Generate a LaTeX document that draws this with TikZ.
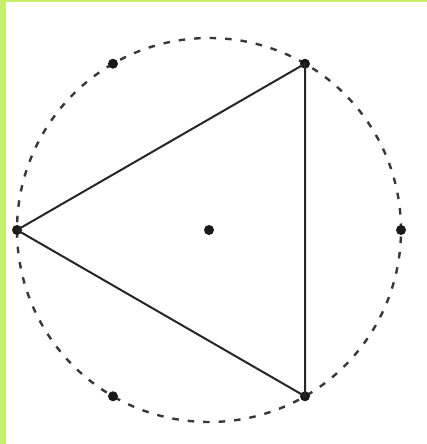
\documentclass[tikz,border=0pt]{standalone}
\usetikzlibrary{calc}
\definecolor{bargreen}{RGB}{198,240,104}
\tikzset{
  ring/.style={line width=2.4pt, dash pattern=on 6.5pt off 9pt, color=black!78},
  tri/.style={line width=2pt, color=black!85, line join=round},
  pt/.style={circle, fill=black!90, inner sep=0pt, minimum size=10pt}
}
\begin{document}
\begin{tikzpicture}[x=1pt,y=1pt]
\useasboundingbox (0,0) rectangle (427,444);
\fill[white] (0,0) rectangle (427,444);
\fill[bargreen] (0,0) rectangle (6,444);
\fill[bargreen] (0,442) rectangle (427,444);
\coordinate (O) at (209,214);
\draw[ring] (O) circle[radius=192];
\node[pt] (A) at ($(O)+(180:192)$) {};
\node[pt] (B) at ($(O)+(60:192)$) {};
\node[pt] (C) at ($(O)+(-60:192)$) {};
\node[pt] (D) at ($(O)+(120:192)$) {};
\node[pt] (E) at ($(O)+(0:192)$) {};
\node[pt] (F) at ($(O)+(-120:192)$) {};
\node[pt] (M) at (O) {};
\draw[tri] (A.center) -- (B.center) -- (C.center) -- cycle;
\end{tikzpicture}
\end{document}
